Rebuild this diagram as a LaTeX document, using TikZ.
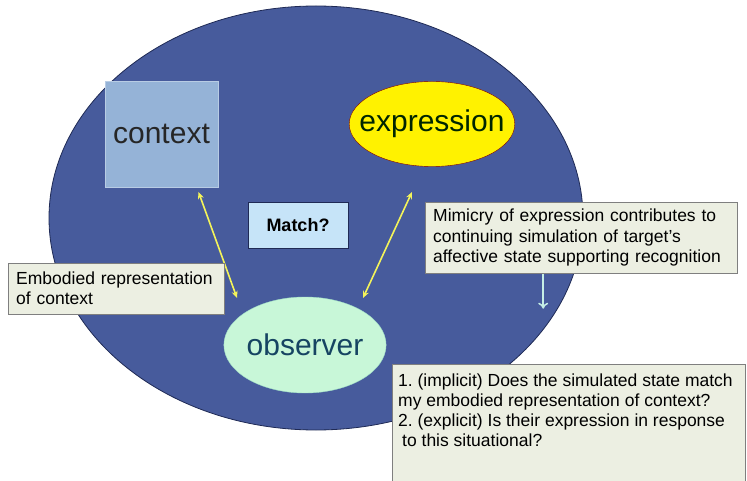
\documentclass[tikz,border=0pt]{standalone}
\usepackage{fontspec}
\setmainfont{Liberation Sans}
\usetikzlibrary{shapes.geometric,arrows.meta}
\definecolor{bigblue}{HTML}{475B9C}
\definecolor{navy}{HTML}{1F2A55}
\definecolor{ctxblue}{HTML}{95B3D7}
\definecolor{ctxline}{HTML}{B8CCE4}
\definecolor{obsgreen}{HTML}{C8F7D8}
\definecolor{matchblue}{HTML}{C6E4F8}
\definecolor{notefill}{HTML}{ECEFE2}
\definecolor{notegray}{HTML}{7F7F7F}
\definecolor{linkyellow}{HTML}{F4F45A}
\definecolor{mimcyan}{HTML}{C6EFE6}
\frenchspacing

\begin{document}
\begin{tikzpicture}[x=1pt,y=-1pt,
  word/.style={font=\fontsize{30}{36}\selectfont,inner sep=0pt},
  note/.style={draw=notegray,fill=notefill,anchor=north west,align=left,
    inner xsep=8pt,font=\fontsize{17.5}{20}\selectfont},
  link/.style={draw=linkyellow,line width=1.6pt,
    {Stealth[length=7pt,width=6pt]}-{Stealth[length=7pt,width=6pt]}}]
\useasboundingbox (0,0) rectangle (747,481);
\draw[fill=bigblue,draw=navy,line width=0.8pt] (316,218) ellipse [x radius=267pt,y radius=212pt];
\node [word,draw=ctxline,fill=ctxblue,text=black!85,minimum width=113pt,minimum height=106pt] (c) at (161.5,134) {context};
\node [word,ellipse,draw=red!50!black,fill=yellow,text=black!75!green!60!black,inner xsep=-14pt,minimum height=85pt] (x) at (432,124) {expression};
\node [word,ellipse,draw=obsgreen!80!teal,fill=obsgreen,text=navy!70!teal,inner xsep=-1pt,minimum height=96pt] (o) at (305,345) {observer};
\node [draw=navy,fill=matchblue,font=\fontsize{18}{22}\selectfont\bfseries,minimum width=100pt,minimum height=46pt] (m) at (298,225) {Match?};
\draw[link] ([shift={(37,58)}]c.center) -- ([shift={(-68,-47)}]o.center);
\draw[link] ([shift={(-20,68)}]x.center) -- ([shift={(58,-47)}]o.center);
\node [note,text width=200pt,inner ysep=9pt] (e) at (8,263) {Embodied representation\\of context};
\node [note,text width=296pt,inner ysep=7pt,font=\fontsize{17.5}{20.5}\selectfont] (s) at (425,202) {Mimicry of expression contributes to\\continuing simulation of target's\\affective state supporting recognition};
\draw[mimcyan,line width=1.5pt,-{To[length=6pt,width=10pt]}] ([xshift=-38pt]s.south) -- ([shift={(-38,35)}]s.south);
\node [note,inner xsep=6pt,inner ysep=10pt] (q) at (392,364) {\parbox[t][112pt][t]{341pt}{\raggedright 1. (implicit) Does the simulated state match\\my embodied representation of context?\\2. (explicit) Is their expression in response\\\hspace*{4pt}to this situational?}};
\end{tikzpicture}
\end{document}
